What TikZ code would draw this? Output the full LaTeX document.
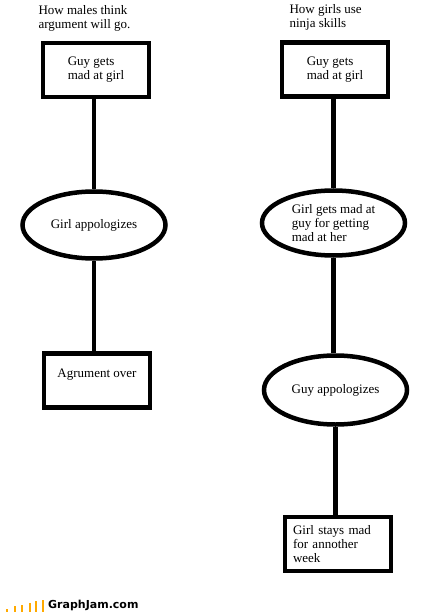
\documentclass[tikz,border=0pt]{standalone}
\usepackage{fontspec}
\setmainfont{Liberation Serif}
\newfontfamily\logofont{DejaVu Sans}
\usetikzlibrary{shapes.geometric}
\definecolor{jamorange}{RGB}{255,170,0}

\begin{document}
\begin{tikzpicture}[x=1pt, y=-1pt,
			every node/.style = {font=\fontsize{13}{14}\selectfont, align=left},
			box/.style = {draw, line width=4.5pt, minimum width=106pt, minimum height=54pt},
			oval/.style = {draw, ellipse, line width=4.5pt, minimum width=143pt, minimum height=67pt, inner sep=1pt},
			edge/.style = {line width=4.5pt}]
			\useasboundingbox (0,0) rectangle (428,612);
			%\draw[help lines, step=20pt] (0,0) grid (428,612);
			
			\node[anchor=west] (t1) at (35,18) {How males think\\argument will go.};
			\node[anchor=west] (t2) at (286,17) {How girls use\\ninja skills};
			
			\node[box] (1) at (96,70) {Guy gets\\mad at girl};
			\node[oval] (2) at (94,225) {Girl appologizes};
			\node[box, text depth=14pt] (3) at (97,380.5) {Agrument over};
			
			\node[box] (4) at (335,69.5) {Guy gets\\mad at girl};
			\node[oval, minimum height=65pt] (5) at (333.5,223) {Girl gets mad at\\guy for getting\\mad at her};
			\node[oval, minimum height=69pt] (6) at (335.5,390) {Guy appologizes};
			\node[box, text width=90pt] (7) at (338,544) {Girl stays mad\\for annother\\week};
			
			\draw[edge] (1.south -| 2) -- (2);
			\draw[edge] (2) -- (3.north -| 2);
			\draw[edge] (4.south -| 5) -- (5);
			\draw[edge] (5) -- (6.north -| 5);
			\draw[edge] (6) -- (7.north -| 6);
			
			\foreach \x/\h in {7/2.5, 15/5.3, 22.3/7, 29.7/8.6, 36.3/10.3, 43/12}
				\fill[jamorange] (\x-1,611.5) rectangle (\x+1,611.5-\h);
			\node[anchor=west, inner sep=0pt, font=\logofont\bfseries\fontsize{11}{12}\selectfont] (logo) at (48,605.5) {GraphJam.com};
			\end{tikzpicture}
\end{document}
